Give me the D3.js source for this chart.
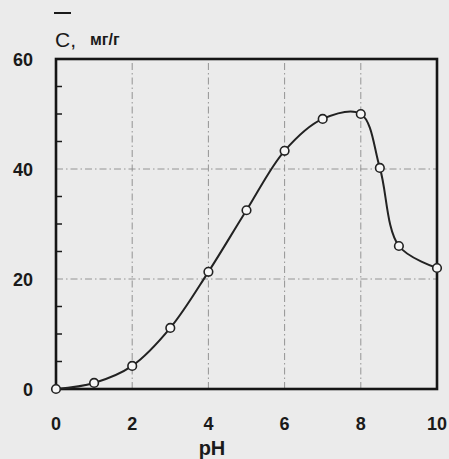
<!doctype html>
<html>
<head>
  <meta charset="utf-8">
  <script src="https://d3js.org/d3.v7.min.js"></script>
  <style>
    body { margin: 0; background: #ebebeb; }
    svg { display: block; }
    text { font-family: "Liberation Sans", Arial, sans-serif; fill: #1a1a1a; }
  </style>
</head>
<body>
<svg width="449" height="459"></svg>
<script>
  // pH vs sorption capacity C, mg/g
  var phValues = [0, 1, 2, 3, 4, 5, 6, 7, 8, 8.5, 9, 10];
  var cValues = [0, 1.1, 4.2, 11.1, 21.3, 32.5, 43.3, 49.1, 50.0, 40.2, 26, 22];
  var xTicks = [0, 2, 4, 6, 8, 10];
  var yTicks = [0, 20, 40, 60];
  var yMinor = [5, 10, 15, 25, 30, 35, 45, 50, 55];

  var svg = d3.select("svg");

  var x = d3.scaleLinear().domain([0, 10]).range([56, 437]);
  var y = d3.scaleLinear().domain([0, 60]).range([389, 59]);

  // grid (dash-dot)
  svg.append("g").selectAll("line")
    .data(xTicks.slice(1, -1))
    .enter().append("line")
    .attr("x1", d => x(d)).attr("x2", d => x(d))
    .attr("y1", y(0)).attr("y2", y(60))
    .attr("stroke", "#8a8a8a").attr("stroke-width", 0.9)
    .attr("stroke-dasharray", "7,3,1.5,3");

  svg.append("g").selectAll("line")
    .data(yTicks.slice(1, -1))
    .enter().append("line")
    .attr("x1", x(0)).attr("x2", x(10))
    .attr("y1", d => y(d)).attr("y2", d => y(d))
    .attr("stroke", "#8a8a8a").attr("stroke-width", 0.9)
    .attr("stroke-dasharray", "7,3,1.5,3");

  // minor ticks on the left axis, pointing inward
  svg.append("g").selectAll("line")
    .data(yMinor)
    .enter().append("line")
    .attr("x1", x(0)).attr("x2", x(0) + 6)
    .attr("y1", d => y(d)).attr("y2", d => y(d))
    .attr("stroke", "#1a1a1a").attr("stroke-width", 1.5);

  // frame
  svg.append("rect")
    .attr("x", x(0)).attr("y", y(60))
    .attr("width", x(10) - x(0)).attr("height", y(0) - y(60))
    .attr("fill", "none").attr("stroke", "#151515").attr("stroke-width", 2.6);

  // tick labels
  svg.append("g").selectAll("text")
    .data(yTicks)
    .enter().append("text")
    .attr("x", 33).attr("y", d => y(d) + 7)
    .attr("text-anchor", "end")
    .attr("font-size", 18).attr("font-weight", "bold")
    .text(d => d);

  svg.append("g").selectAll("text")
    .data(xTicks)
    .enter().append("text")
    .attr("x", d => x(d)).attr("y", 430)
    .attr("text-anchor", "middle")
    .attr("font-size", 18).attr("font-weight", "bold")
    .text(d => d);

  // axis titles
  svg.append("text")
    .attr("x", 212).attr("y", 455)
    .attr("text-anchor", "middle")
    .attr("font-size", 20).attr("font-weight", "bold")
    .text("pH");

  svg.append("text")
    .attr("x", 55).attr("y", 47)
    .attr("font-size", 21)
    .text("C,");
  svg.append("line")
    .attr("x1", 54).attr("x2", 71)
    .attr("y1", 13).attr("y2", 13)
    .attr("stroke", "#1a1a1a").attr("stroke-width", 2);
  svg.append("text")
    .attr("x", 90).attr("y", 45)
    .attr("font-size", 16).attr("font-weight", "bold")
    .text("мг/г");

  // curve
  var pts = phValues.map((p, i) => [p, cValues[i]]);
  var line = d3.line()
    .x(d => x(d[0])).y(d => y(d[1]))
    .curve(d3.curveCatmullRom.alpha(0.5));

  svg.append("path")
    .datum(pts)
    .attr("d", line)
    .attr("fill", "none")
    .attr("stroke", "#222")
    .attr("stroke-width", 2);

  svg.append("g").selectAll("circle")
    .data(pts)
    .enter().append("circle")
    .attr("cx", d => x(d[0])).attr("cy", d => y(d[1]))
    .attr("r", 4.3)
    .attr("fill", "#f7f7f7")
    .attr("stroke", "#222")
    .attr("stroke-width", 1.6);
</script>
</body>
</html>
